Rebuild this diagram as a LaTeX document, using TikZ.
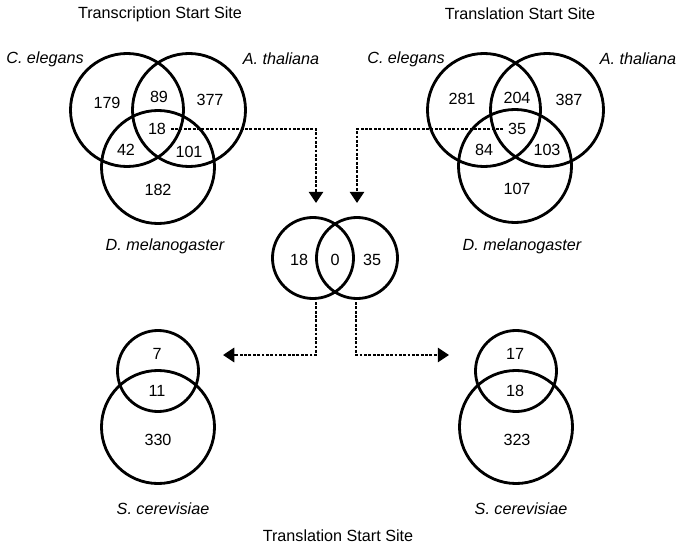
\documentclass[tikz,border=0pt]{standalone}
\usepackage{fontspec}
\setmainfont{Liberation Sans}
\usetikzlibrary{arrows.meta}

\begin{document}
\begin{tikzpicture}[x=0.025cm, y=-0.025cm,
    venn/.style={draw, circle, line width=2pt, inner sep=0pt},
    bigset/.style={venn, minimum size=2.825cm},
    smallset/.style={venn, minimum size=2.025cm},
    count/.style={font=\fontsize{11.5}{13}\selectfont},
    species/.style={font=\fontsize{11.5}{13}\selectfont\itshape},
    heading/.style={font=\fontsize{11.5}{13}\selectfont},
    link/.style={line width=2.1pt, dash pattern=on 2pt off 1.1pt,
        -{Triangle[length=8pt,width=10pt]}}]
    \useasboundingbox (0,0) rectangle (685,546);

    % Transcription start site, three species
    \node[heading] (tssHead) at (160,14) {Transcription Start Site};
    \node[bigset] (tssCe) at (127,110) {};
    \node[bigset] (tssAt) at (189,110) {};
    \node[bigset] (tssDm) at (158,167) {};
    \node[species] (tssCeName) at (45,59) {C. elegans};
    \node[species] (tssAtName) at (281,59) {A. thaliana};
    \node[species] (tssDmName) at (165,246) {D. melanogaster};
    \node[count] (tss179) at (107,103) {179};
    \node[count] (tss89) at (159,97) {89};
    \node[count] (tss377) at (210,100) {377};
    \node[count] (tss18) at (157,129) {18};
    \node[count] (tss42) at (126,150) {42};
    \node[count] (tss101) at (189,152) {101};
    \node[count] (tss182) at (158,190) {182};

    % Translation start site, three species
    \node[heading] (tlsHead) at (520,14) {Translation Start Site};
    \node[bigset] (tlsCe) at (484,110) {};
    \node[bigset] (tlsAt) at (547,110) {};
    \node[bigset] (tlsDm) at (515,166) {};
    \node[species] (tlsCeName) at (406,59) {C. elegans};
    \node[species] (tlsAtName) at (638,59) {A. thaliana};
    \node[species] (tlsDmName) at (522,246) {D. melanogaster};
    \node[count] (tls281) at (462,99) {281};
    \node[count] (tls204) at (517,98) {204};
    \node[count] (tls387) at (569,100) {387};
    \node[count] (tls35) at (517,129) {35};
    \node[count] (tls84) at (484,150) {84};
    \node[count] (tls103) at (547,150) {103};
    \node[count] (tls107) at (517,189) {107};

    % Shared sets compared
    \node[smallset] (midL) at (313,258) {};
    \node[smallset] (midR) at (357,258) {};
    \node[count] (mid18) at (299,260) {18};
    \node[count] (mid0) at (335,260) {0};
    \node[count] (mid35) at (372,260) {35};

    % S. cerevisiae, left and right
    \node[smallset] (scLtop) at (158,371) {};
    \node[bigset] (scLbig) at (158,427) {};
    \node[count] (scL7) at (157,354) {7};
    \node[count] (scL11) at (157,391) {11};
    \node[count] (scL330) at (158,440) {330};
    \node[species] (scLName) at (163,509) {S. cerevisiae};

    \node[smallset] (scRtop) at (516,371) {};
    \node[bigset] (scRbig) at (516,427) {};
    \node[count] (scR17) at (515,354) {17};
    \node[count] (scR18) at (515,391) {18};
    \node[count] (scR323) at (517,440) {323};
    \node[species] (scRName) at (521,509) {S. cerevisiae};

    \node[heading] (bottomHead) at (338,536) {Translation Start Site};

    % Connectors
    \coordinate (inL) at (316,203);
    \coordinate (inR) at (357,203);
    \coordinate (outL) at (316,302);
    \coordinate (outR) at (356,302);
    \coordinate (toScL) at (223,355);
    \coordinate (toScR) at (449,355);
    \draw[link] (tss18.east) -| (inL);
    \draw[link] (tls35.west) -| (inR);
    \draw[link] (outL) |- (toScL);
    \draw[link] (outR) |- (toScR);
\end{tikzpicture}
\end{document}
